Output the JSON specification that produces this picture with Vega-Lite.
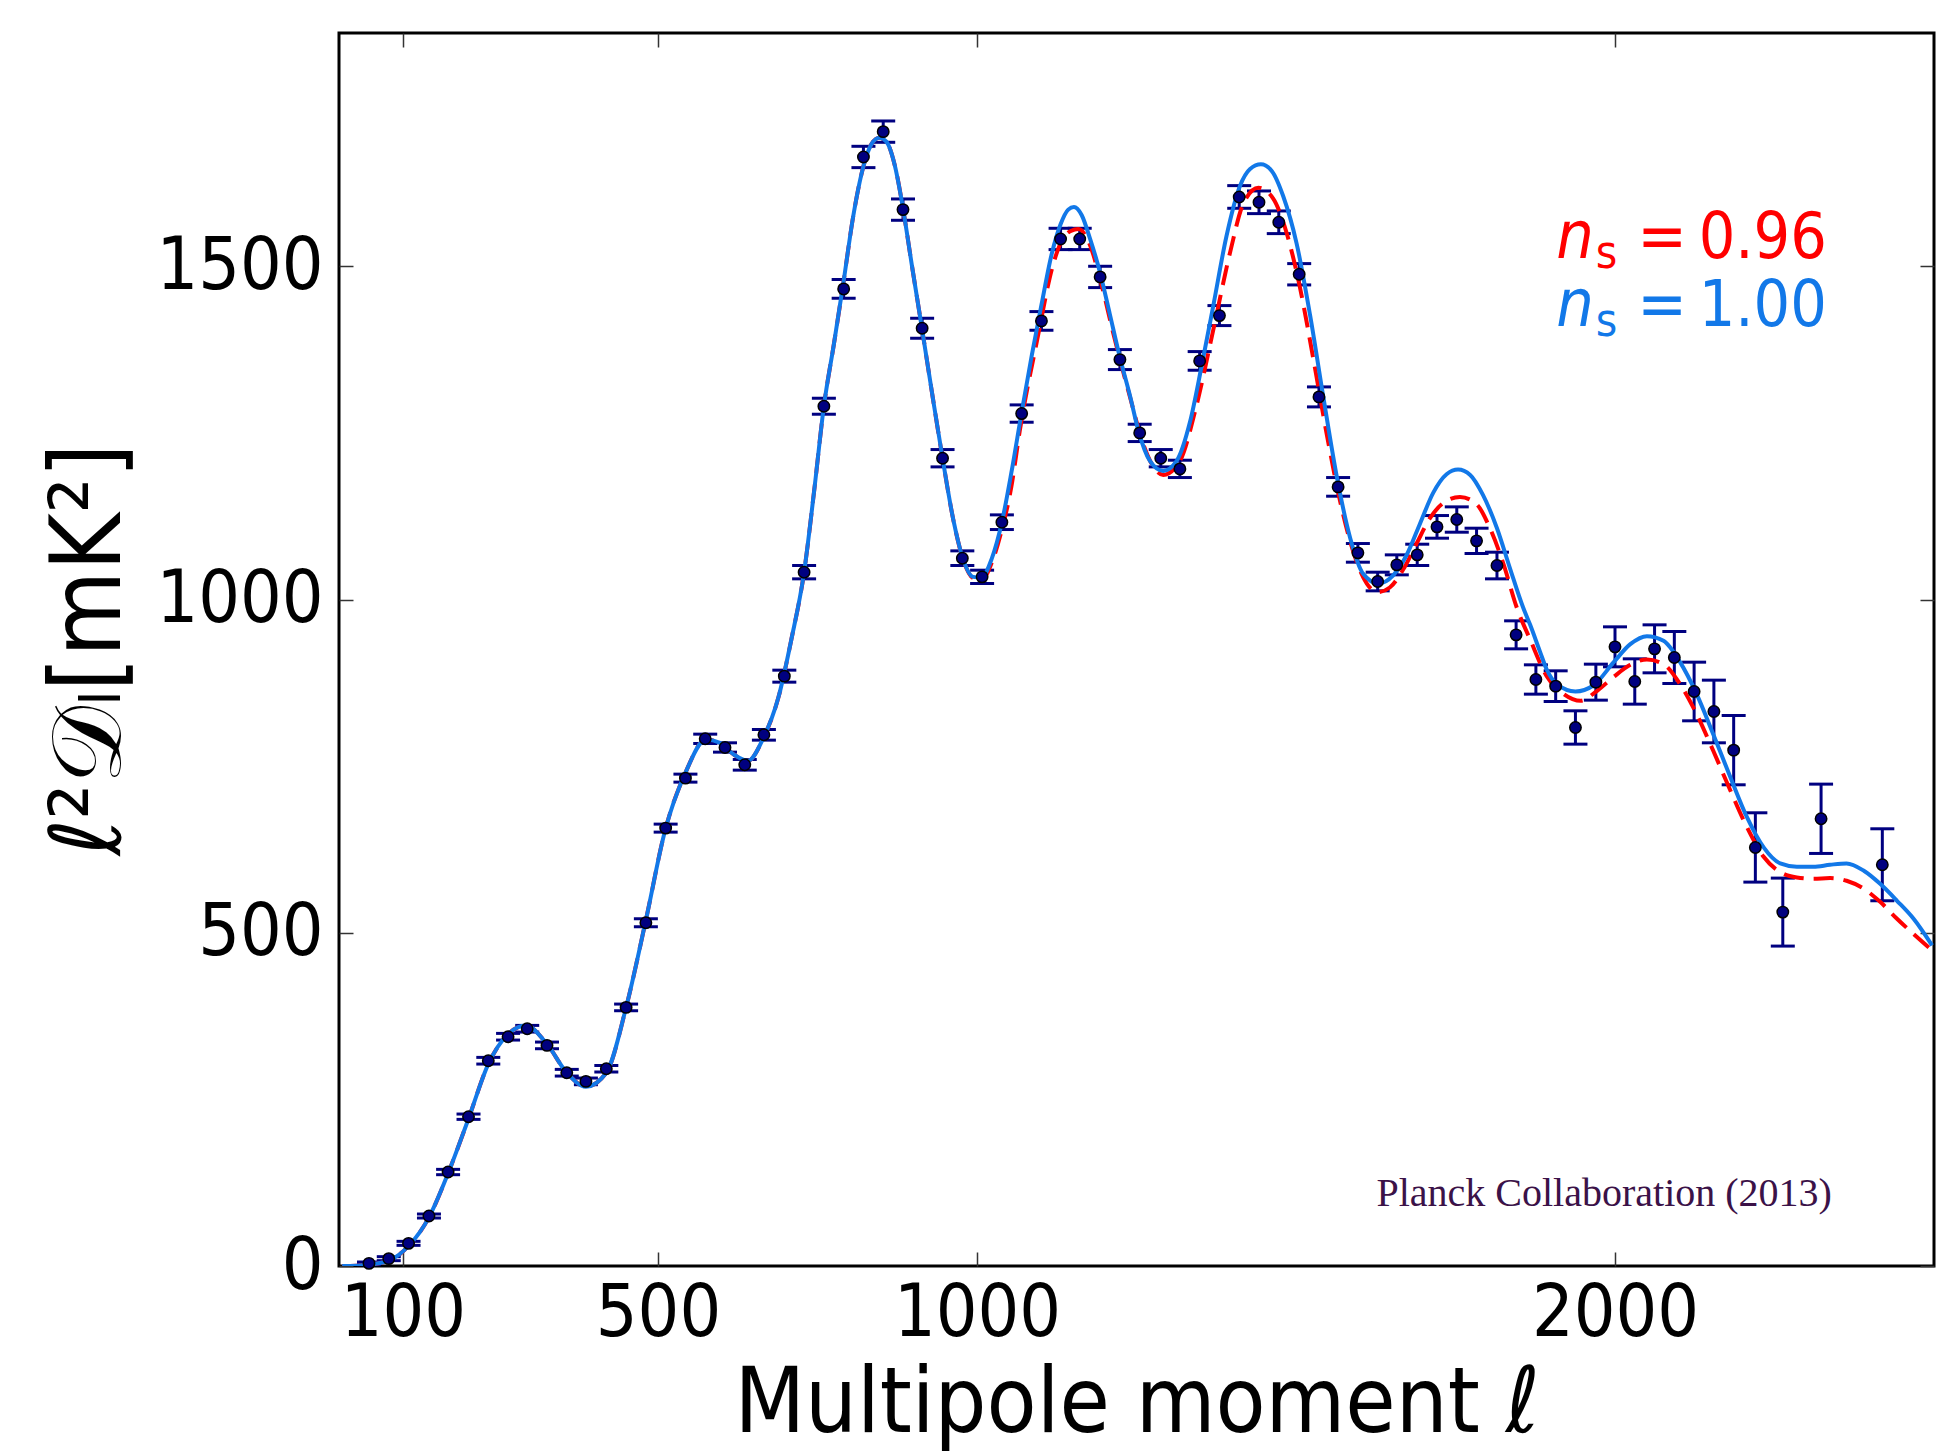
{
  "$schema": "https://vega.github.io/schema/vega-lite/v6.json",
  "width": 1595,
  "height": 1233,
  "autosize": {"type": "none"},
  "padding": {"left": 339, "top": 33, "right": 6, "bottom": 189},
  "background": "white",
  "config": {
    "view": {"stroke": "black", "strokeWidth": 3},
    "axis": {
      "grid": false,
      "domain": false,
      "ticks": true,
      "tickSize": -14,
      "tickWidth": 1.5,
      "tickColor": "#333333",
      "format": "d",
      "labelLimit": 0,
      "labelFont": "DejaVu Sans Condensed, DejaVu Sans, sans-serif",
      "labelFontSize": 73,
      "labelColor": "black",
      "titleFont": "DejaVu Sans Condensed, DejaVu Sans, sans-serif",
      "titleFontWeight": "normal",
      "titleColor": "black",
      "titleLimit": 0
    }
  },
  "datasets": {
    "bins": [
      {"l": 47, "D": 4, "err": 2}, {"l": 78, "D": 11, "err": 3}, {"l": 109, "D": 34, "err": 3},
      {"l": 141, "D": 75, "err": 3}, {"l": 171, "D": 141, "err": 4}, {"l": 203, "D": 224, "err": 4},
      {"l": 234, "D": 308, "err": 5}, {"l": 265, "D": 344, "err": 5}, {"l": 295, "D": 356, "err": 5},
      {"l": 326, "D": 331, "err": 5}, {"l": 357, "D": 290, "err": 5}, {"l": 387, "D": 277, "err": 5},
      {"l": 419, "D": 296, "err": 5}, {"l": 450, "D": 388, "err": 5}, {"l": 481, "D": 515, "err": 6},
      {"l": 512, "D": 657, "err": 6}, {"l": 543, "D": 732, "err": 6}, {"l": 574, "D": 791, "err": 7},
      {"l": 605, "D": 778, "err": 7}, {"l": 636, "D": 752, "err": 8}, {"l": 666, "D": 797, "err": 8},
      {"l": 698, "D": 885, "err": 9}, {"l": 729, "D": 1041, "err": 10}, {"l": 760, "D": 1290, "err": 12},
      {"l": 791, "D": 1466, "err": 14}, {"l": 822, "D": 1664, "err": 16}, {"l": 853, "D": 1702, "err": 16},
      {"l": 884, "D": 1585, "err": 16}, {"l": 914, "D": 1407, "err": 15}, {"l": 946, "D": 1212, "err": 13},
      {"l": 977, "D": 1062, "err": 11}, {"l": 1008, "D": 1034, "err": 10}, {"l": 1039, "D": 1116, "err": 11},
      {"l": 1070, "D": 1279, "err": 13}, {"l": 1101, "D": 1418, "err": 14}, {"l": 1131, "D": 1541, "err": 16},
      {"l": 1161, "D": 1541, "err": 16}, {"l": 1193, "D": 1484, "err": 16}, {"l": 1224, "D": 1360, "err": 15},
      {"l": 1255, "D": 1250, "err": 13}, {"l": 1288, "D": 1212, "err": 13}, {"l": 1318, "D": 1196, "err": 13},
      {"l": 1349, "D": 1358, "err": 14}, {"l": 1380, "D": 1426, "err": 15}, {"l": 1411, "D": 1604, "err": 17},
      {"l": 1442, "D": 1596, "err": 17}, {"l": 1473, "D": 1566, "err": 17}, {"l": 1505, "D": 1488, "err": 16},
      {"l": 1536, "D": 1304, "err": 15}, {"l": 1566, "D": 1169, "err": 14}, {"l": 1597, "D": 1070, "err": 14},
      {"l": 1628, "D": 1027, "err": 14}, {"l": 1658, "D": 1052, "err": 15}, {"l": 1690, "D": 1067, "err": 16},
      {"l": 1721, "D": 1109, "err": 17}, {"l": 1752, "D": 1120, "err": 19}, {"l": 1783, "D": 1088, "err": 19},
      {"l": 1815, "D": 1051, "err": 20}, {"l": 1845, "D": 947, "err": 21}, {"l": 1876, "D": 880, "err": 22},
      {"l": 1907, "D": 870, "err": 23}, {"l": 1938, "D": 808, "err": 25}, {"l": 1970, "D": 876, "err": 27},
      {"l": 2000, "D": 929, "err": 30}, {"l": 2031, "D": 877, "err": 34}, {"l": 2062, "D": 926, "err": 36},
      {"l": 2093, "D": 913, "err": 39}, {"l": 2124, "D": 862, "err": 44}, {"l": 2155, "D": 832, "err": 47},
      {"l": 2186, "D": 774, "err": 52}, {"l": 2220, "D": 628, "err": 52}, {"l": 2263, "D": 531, "err": 51},
      {"l": 2323, "D": 671, "err": 52}, {"l": 2419, "D": 602, "err": 54}
    ],
    "ns100": [
      {"l": 5, "D": 0}, {"l": 27, "D": 0.5}, {"l": 47, "D": 2}, {"l": 78, "D": 8}, {"l": 109, "D": 30},
      {"l": 141, "D": 73}, {"l": 171, "D": 139}, {"l": 203, "D": 221}, {"l": 234, "D": 303}, {"l": 265, "D": 348},
      {"l": 293, "D": 361}, {"l": 326, "D": 333}, {"l": 357, "D": 290}, {"l": 387, "D": 269}, {"l": 419, "D": 290},
      {"l": 450, "D": 388}, {"l": 481, "D": 519}, {"l": 511, "D": 653}, {"l": 543, "D": 740}, {"l": 575, "D": 790},
      {"l": 597, "D": 785}, {"l": 618, "D": 768}, {"l": 641, "D": 758}, {"l": 665, "D": 792}, {"l": 689, "D": 854},
      {"l": 709, "D": 940}, {"l": 729, "D": 1041}, {"l": 745, "D": 1165}, {"l": 760, "D": 1290}, {"l": 776, "D": 1385},
      {"l": 791, "D": 1478}, {"l": 806, "D": 1575}, {"l": 822, "D": 1650}, {"l": 835, "D": 1684}, {"l": 847, "D": 1693},
      {"l": 858, "D": 1687}, {"l": 871, "D": 1652}, {"l": 884, "D": 1587}, {"l": 898, "D": 1501}, {"l": 914, "D": 1405},
      {"l": 931, "D": 1301}, {"l": 946, "D": 1212}, {"l": 963, "D": 1119}, {"l": 977, "D": 1064}, {"l": 994, "D": 1034},
      {"l": 1007, "D": 1033}, {"l": 1023, "D": 1061}, {"l": 1039, "D": 1116}, {"l": 1054, "D": 1191}, {"l": 1070, "D": 1281},
      {"l": 1086, "D": 1367}, {"l": 1101, "D": 1442}, {"l": 1117, "D": 1518}, {"l": 1131, "D": 1563}, {"l": 1143, "D": 1585},
      {"l": 1152, "D": 1589}, {"l": 1164, "D": 1577}, {"l": 1177, "D": 1542}, {"l": 1193, "D": 1490}, {"l": 1208, "D": 1429},
      {"l": 1224, "D": 1363}, {"l": 1240, "D": 1305}, {"l": 1253, "D": 1253}, {"l": 1271, "D": 1208}, {"l": 1292, "D": 1193},
      {"l": 1313, "D": 1208}, {"l": 1334, "D": 1267}, {"l": 1352, "D": 1350}, {"l": 1370, "D": 1439}, {"l": 1391, "D": 1545},
      {"l": 1412, "D": 1620}, {"l": 1428, "D": 1646}, {"l": 1445, "D": 1653}, {"l": 1462, "D": 1643}, {"l": 1480, "D": 1605},
      {"l": 1501, "D": 1534}, {"l": 1522, "D": 1427}, {"l": 1543, "D": 1303}, {"l": 1564, "D": 1184}, {"l": 1585, "D": 1092},
      {"l": 1605, "D": 1039}, {"l": 1629, "D": 1024}, {"l": 1652, "D": 1036}, {"l": 1673, "D": 1066}, {"l": 1694, "D": 1113},
      {"l": 1715, "D": 1160}, {"l": 1736, "D": 1188}, {"l": 1754, "D": 1195}, {"l": 1773, "D": 1187}, {"l": 1793, "D": 1157},
      {"l": 1815, "D": 1107}, {"l": 1835, "D": 1048}, {"l": 1856, "D": 988}, {"l": 1867, "D": 962}, {"l": 1882, "D": 923},
      {"l": 1893, "D": 895}, {"l": 1909, "D": 873}, {"l": 1938, "D": 862}, {"l": 1966, "D": 871}, {"l": 1998, "D": 906},
      {"l": 2024, "D": 933}, {"l": 2050, "D": 945}, {"l": 2076, "D": 938}, {"l": 2102, "D": 906}, {"l": 2128, "D": 858},
      {"l": 2154, "D": 798}, {"l": 2181, "D": 733}, {"l": 2207, "D": 673}, {"l": 2233, "D": 628}, {"l": 2259, "D": 604},
      {"l": 2285, "D": 599}, {"l": 2311, "D": 599}, {"l": 2337, "D": 602}, {"l": 2363, "D": 604}, {"l": 2390, "D": 593},
      {"l": 2416, "D": 573}, {"l": 2442, "D": 548}, {"l": 2468, "D": 521}, {"l": 2497, "D": 481}
    ],
    "ns096": [
      {"l": 5, "D": 0}, {"l": 27, "D": 0.5}, {"l": 47, "D": 2}, {"l": 78, "D": 8}, {"l": 109, "D": 30},
      {"l": 141, "D": 73}, {"l": 171, "D": 139}, {"l": 203, "D": 221}, {"l": 234, "D": 303}, {"l": 265, "D": 348},
      {"l": 293, "D": 361}, {"l": 326, "D": 333}, {"l": 357, "D": 290}, {"l": 387, "D": 269}, {"l": 419, "D": 290},
      {"l": 450, "D": 388}, {"l": 481, "D": 519}, {"l": 511, "D": 653}, {"l": 543, "D": 740}, {"l": 575, "D": 790},
      {"l": 597, "D": 785}, {"l": 618, "D": 768}, {"l": 641, "D": 758}, {"l": 665, "D": 792}, {"l": 689, "D": 854},
      {"l": 709, "D": 940}, {"l": 729, "D": 1041}, {"l": 745, "D": 1165}, {"l": 760, "D": 1290}, {"l": 776, "D": 1385},
      {"l": 791, "D": 1478}, {"l": 806, "D": 1575}, {"l": 822, "D": 1650}, {"l": 835, "D": 1684}, {"l": 847, "D": 1693},
      {"l": 858, "D": 1687}, {"l": 871, "D": 1652}, {"l": 884, "D": 1587}, {"l": 898, "D": 1501}, {"l": 914, "D": 1405},
      {"l": 931, "D": 1301}, {"l": 946, "D": 1212}, {"l": 963, "D": 1119}, {"l": 977, "D": 1064}, {"l": 994, "D": 1032},
      {"l": 1008, "D": 1029}, {"l": 1023, "D": 1055}, {"l": 1039, "D": 1105}, {"l": 1054, "D": 1170}, {"l": 1067, "D": 1253},
      {"l": 1094, "D": 1388}, {"l": 1120, "D": 1505}, {"l": 1135, "D": 1542}, {"l": 1147, "D": 1553}, {"l": 1159, "D": 1556},
      {"l": 1177, "D": 1532}, {"l": 1195, "D": 1473}, {"l": 1214, "D": 1398}, {"l": 1240, "D": 1303}, {"l": 1261, "D": 1232},
      {"l": 1276, "D": 1200}, {"l": 1292, "D": 1187}, {"l": 1318, "D": 1208}, {"l": 1344, "D": 1291}, {"l": 1370, "D": 1403},
      {"l": 1397, "D": 1522}, {"l": 1417, "D": 1593}, {"l": 1441, "D": 1618}, {"l": 1464, "D": 1602}, {"l": 1485, "D": 1551},
      {"l": 1506, "D": 1469}, {"l": 1527, "D": 1362}, {"l": 1548, "D": 1249}, {"l": 1569, "D": 1148}, {"l": 1590, "D": 1071},
      {"l": 1611, "D": 1024}, {"l": 1628, "D": 1011}, {"l": 1647, "D": 1018}, {"l": 1668, "D": 1045}, {"l": 1689, "D": 1084},
      {"l": 1710, "D": 1122}, {"l": 1731, "D": 1145}, {"l": 1757, "D": 1154}, {"l": 1783, "D": 1143}, {"l": 1804, "D": 1107},
      {"l": 1825, "D": 1054}, {"l": 1846, "D": 988}, {"l": 1867, "D": 940}, {"l": 1893, "D": 885}, {"l": 1920, "D": 858},
      {"l": 1946, "D": 848}, {"l": 1972, "D": 863}, {"l": 1998, "D": 884}, {"l": 2024, "D": 902}, {"l": 2050, "D": 910},
      {"l": 2076, "D": 903}, {"l": 2102, "D": 873}, {"l": 2128, "D": 828}, {"l": 2154, "D": 773}, {"l": 2181, "D": 713},
      {"l": 2207, "D": 658}, {"l": 2233, "D": 614}, {"l": 2259, "D": 591}, {"l": 2285, "D": 583}, {"l": 2311, "D": 581},
      {"l": 2337, "D": 582}, {"l": 2363, "D": 578}, {"l": 2390, "D": 566}, {"l": 2416, "D": 546}, {"l": 2442, "D": 521},
      {"l": 2468, "D": 498}, {"l": 2494, "D": 476}
    ],
    "one": [{}]
  },
  "resolve": {"axis": {"x": "independent", "y": "independent"}},
  "layer": [
    {
      "data": {"name": "bins"},
      "mark": {"type": "errorbar", "color": "#000080", "opacity": 1, "thickness": 3, "rule": {"opacity": 1, "strokeWidth": 3, "color": "#000080"}, "ticks": {"size": 24, "thickness": 3, "opacity": 1, "color": "#000080"}},
      "encoding": {
        "x": {"field": "l", "type": "quantitative", "scale": {"domain": [0, 2500], "nice": false, "zero": false}, "axis": null},
        "y": {"field": "D", "type": "quantitative", "scale": {"domain": [0, 1850], "nice": false}, "axis": null},
        "yError": {"field": "err"}
      }
    },
    {
      "data": {"name": "ns096"},
      "mark": {"type": "line", "color": "#ff0000", "strokeWidth": 4, "strokeDash": [20, 10], "interpolate": "monotone", "clip": true},
      "encoding": {
        "x": {"field": "l", "type": "quantitative", "axis": {"orient": "top", "values": [100, 500, 1000, 2000], "labels": false, "title": null}},
        "y": {"field": "D", "type": "quantitative", "axis": {"orient": "right", "values": [0, 500, 1000, 1500], "labels": false, "title": null}}
      }
    },
    {
      "data": {"name": "ns100"},
      "mark": {"type": "line", "color": "#1278e8", "strokeWidth": 4, "interpolate": "monotone", "clip": true},
      "encoding": {
        "x": {"field": "l", "type": "quantitative", "axis": {"orient": "bottom", "values": [100, 500, 1000, 2000], "labelPadding": 25, "title": "Multipole moment ℓ", "titleFontSize": 91, "titleY": 165, "titleBaseline": "alphabetic"}},
        "y": {"field": "D", "type": "quantitative", "axis": {"orient": "left", "values": [0, 500, 1000, 1500], "labelPadding": 30, "title": "ℓ²𝒟ₗ[mK²]", "titleFontSize": 98, "titleAngle": 270, "titleX": -220, "titleY": 616, "titleAlign": "center", "titleBaseline": "alphabetic"}}
      }
    },
    {
      "data": {"name": "bins"},
      "mark": {"type": "point", "filled": true, "size": 130, "color": "#000080", "stroke": "black", "strokeWidth": 1.5, "opacity": 1},
      "encoding": {
        "x": {"field": "l", "type": "quantitative", "axis": null},
        "y": {"field": "D", "type": "quantitative", "axis": null}
      }
    },
    {
      "data": {"name": "one"},
      "mark": {"type": "text", "text": "n", "color": "#ff0000", "font": "DejaVu Sans Condensed, DejaVu Sans, sans-serif", "fontStyle": "italic", "fontSize": 66, "align": "left", "baseline": "alphabetic"},
      "encoding": {"x": {"datum": 1908, "type": "quantitative", "axis": null}, "y": {"datum": 1513, "type": "quantitative", "axis": null}}
    },
    {
      "data": {"name": "one"},
      "mark": {"type": "text", "text": "s", "color": "#ff0000", "font": "DejaVu Sans Condensed, DejaVu Sans, sans-serif", "fontSize": 46, "align": "left", "baseline": "alphabetic"},
      "encoding": {"x": {"datum": 1970, "type": "quantitative", "axis": null}, "y": {"datum": 1497, "type": "quantitative", "axis": null}}
    },
    {
      "data": {"name": "one"},
      "mark": {"type": "text", "text": "=", "color": "#ff0000", "font": "DejaVu Sans Condensed, DejaVu Sans, sans-serif", "fontSize": 66, "align": "center", "baseline": "alphabetic"},
      "encoding": {"x": {"datum": 2074, "type": "quantitative", "axis": null}, "y": {"datum": 1513, "type": "quantitative", "axis": null}}
    },
    {
      "data": {"name": "one"},
      "mark": {"type": "text", "text": "0.96", "color": "#ff0000", "font": "DejaVu Sans Condensed, DejaVu Sans, sans-serif", "fontSize": 64, "align": "right", "baseline": "alphabetic"},
      "encoding": {"x": {"datum": 2332, "type": "quantitative", "axis": null}, "y": {"datum": 1513, "type": "quantitative", "axis": null}}
    },
    {
      "data": {"name": "one"},
      "mark": {"type": "text", "text": "n", "color": "#1278e8", "font": "DejaVu Sans Condensed, DejaVu Sans, sans-serif", "fontStyle": "italic", "fontSize": 66, "align": "left", "baseline": "alphabetic"},
      "encoding": {"x": {"datum": 1908, "type": "quantitative", "axis": null}, "y": {"datum": 1411, "type": "quantitative", "axis": null}}
    },
    {
      "data": {"name": "one"},
      "mark": {"type": "text", "text": "s", "color": "#1278e8", "font": "DejaVu Sans Condensed, DejaVu Sans, sans-serif", "fontSize": 46, "align": "left", "baseline": "alphabetic"},
      "encoding": {"x": {"datum": 1970, "type": "quantitative", "axis": null}, "y": {"datum": 1395, "type": "quantitative", "axis": null}}
    },
    {
      "data": {"name": "one"},
      "mark": {"type": "text", "text": "=", "color": "#1278e8", "font": "DejaVu Sans Condensed, DejaVu Sans, sans-serif", "fontSize": 66, "align": "center", "baseline": "alphabetic"},
      "encoding": {"x": {"datum": 2074, "type": "quantitative", "axis": null}, "y": {"datum": 1411, "type": "quantitative", "axis": null}}
    },
    {
      "data": {"name": "one"},
      "mark": {"type": "text", "text": "1.00", "color": "#1278e8", "font": "DejaVu Sans Condensed, DejaVu Sans, sans-serif", "fontSize": 64, "align": "right", "baseline": "alphabetic"},
      "encoding": {"x": {"datum": 2332, "type": "quantitative", "axis": null}, "y": {"datum": 1411, "type": "quantitative", "axis": null}}
    },
    {
      "data": {"name": "one"},
      "mark": {"type": "text", "text": "Planck Collaboration (2013)", "color": "#3b1248", "font": "Liberation Serif, DejaVu Serif, serif", "fontSize": 40, "align": "right", "baseline": "alphabetic"},
      "encoding": {"x": {"datum": 2340, "type": "quantitative", "axis": null}, "y": {"datum": 90, "type": "quantitative", "axis": null}}
    }
  ]
}
